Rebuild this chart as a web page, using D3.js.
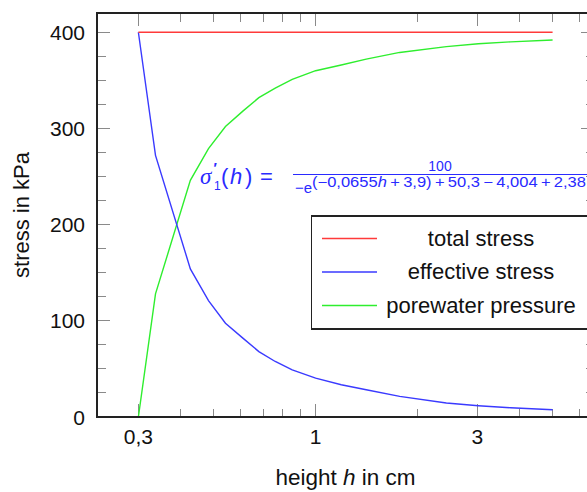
<!DOCTYPE html>
<html>
<head>
  <meta charset="utf-8">
  <title>Stress over height</title>
  <script src="https://d3js.org/d3.v7.min.js"></script>
  <style>
    body { margin: 0; background: #fff; }
    text { font-family: "Liberation Sans", Arial, sans-serif; fill: #111; }
    .line { fill: none; stroke-width: 1.4px; }
    .tick-line { stroke: #8a8a8a; stroke-width: 1px; shape-rendering: crispEdges; }
    .frame { fill: none; stroke: #222; stroke-width: 1.2px; shape-rendering: crispEdges; }
    .formula text { fill: #2a2aff; }
  </style>
</head>
<body>
  <script>
    // values
    var heights = [0.3, 0.337, 0.427, 0.483, 0.542, 0.61, 0.68, 0.76, 0.853, 1.0, 1.19, 1.41, 1.77, 2.43, 3.02, 3.76, 5];
    var effectiveStress = [400, 272, 154, 121, 97.5, 82, 68, 57.7, 49, 40.4, 33.5, 28.3, 21.4, 14.5, 11.7, 9.6, 7.6];
    var porewaterPressure = [0, 128, 246, 279, 302, 318, 332, 342, 351, 360, 366, 372, 379, 385, 388, 390, 392];
    var totalHeights = [0.3, 5];
    var totalStress = [400, 400];

    var xMajor = [0.3, 1, 3];
    var xMinor = [0.4, 0.5, 0.6, 0.7, 0.8, 0.9, 2, 4, 5, 6];
    var yMajor = [0, 100, 200, 300, 400];
    var yMinor = [25, 50, 75, 125, 150, 175, 225, 250, 275, 325, 350, 375];

    var legendItems = ["total stress", "effective stress", "porewater pressure"];
    var colors = ["#ff3a3a", "#3a3aff", "#2eee2e"];

    var W = 587, H = 492;
    var m = {left: 97, right: 594, top: 13, bottom: 417};

    var x = d3.scaleLog().domain([0.2265, 6.624]).range([m.left, m.right]);
    var y = d3.scaleLinear().domain([0, 420]).range([m.bottom, m.top]);

    var svg = d3.select("body").append("svg")
        .attr("width", W)
        .attr("height", H);

    var fmt = function(d) { return String(d).replace(".", ","); };

    // ticks on all four sides, pointing inward
    var majLen = 13, minLen = 8.5;
    var ticks = svg.append("g");
    function xTicks(vals, len) {
      vals.forEach(function(v) {
        ticks.append("line").attr("class", "tick-line")
          .attr("x1", x(v)).attr("x2", x(v)).attr("y1", m.bottom).attr("y2", m.bottom - len);
        ticks.append("line").attr("class", "tick-line")
          .attr("x1", x(v)).attr("x2", x(v)).attr("y1", m.top).attr("y2", m.top + len);
      });
    }
    function yTicks(vals, len) {
      vals.forEach(function(v) {
        ticks.append("line").attr("class", "tick-line")
          .attr("x1", m.left).attr("x2", m.left + len).attr("y1", y(v)).attr("y2", y(v));
        ticks.append("line").attr("class", "tick-line")
          .attr("x1", m.right).attr("x2", m.right - len).attr("y1", y(v)).attr("y2", y(v));
      });
    }
    xTicks(xMajor, majLen);
    xTicks(xMinor, minLen);
    yTicks(yMajor, majLen);
    yTicks(yMinor, minLen);

    svg.append("g").selectAll("text")
      .data(xMajor)
      .join("text")
        .attr("x", function(d) { return x(d); })
        .attr("y", 444)
        .attr("text-anchor", "middle")
        .style("font-size", "21px")
        .text(fmt);

    svg.append("g").selectAll("text")
      .data(yMajor)
      .join("text")
        .attr("x", 85)
        .attr("y", function(d) { return y(d); })
        .attr("dy", "0.36em")
        .attr("text-anchor", "end")
        .style("font-size", "21px")
        .text(function(d) { return d; });

    // axis titles
    var xt = svg.append("text")
        .attr("x", (m.left + m.right) / 2)
        .attr("y", 485)
        .attr("text-anchor", "middle")
        .style("font-size", "22.5px");
    xt.append("tspan").text("height ");
    xt.append("tspan").style("font-style", "italic").text("h");
    xt.append("tspan").text(" in cm");

    svg.append("text")
        .attr("transform", "translate(29," + ((m.top + m.bottom) / 2) + ") rotate(-90)")
        .attr("text-anchor", "middle")
        .style("font-size", "22px")
        .text("stress in kPa");

    // series
    var line = d3.line()
        .x(function(d) { return x(d[0]); })
        .y(function(d) { return y(d[1]); });

    var series = [
      d3.zip(totalHeights, totalStress),
      d3.zip(heights, effectiveStress),
      d3.zip(heights, porewaterPressure)
    ];

    svg.append("g").selectAll("path")
      .data([series[2], series[1], series[0]])
      .join("path")
        .attr("class", "line")
        .attr("stroke", function(d, i) { return colors[2 - i]; })
        .attr("d", line);

    // formula
    var f = svg.append("g").attr("class", "formula");
    f.append("text").attr("x", 200).attr("y", 184)
        .style("font-family", "'Liberation Serif', serif").style("font-style", "italic")
        .style("font-size", "23px").text("σ");
    f.append("text").attr("x", 213.5).attr("y", 173)
        .style("font-size", "14px").style("font-weight", "bold").text("′");
    f.append("text").attr("x", 214).attr("y", 190)
        .style("font-size", "12px").text("1");
    f.append("text").attr("x", 221).attr("y", 184)
        .style("font-size", "22px").text("(");
    f.append("text").attr("x", 230).attr("y", 184)
        .style("font-size", "22px").style("font-style", "italic").text("h");
    f.append("text").attr("x", 245).attr("y", 184)
        .style("font-size", "22px").text(")");
    f.append("text").attr("x", 260).attr("y", 184)
        .style("font-size", "22px").text("=");
    f.append("line")
        .attr("x1", 293).attr("x2", 587).attr("y1", 174.5).attr("y2", 174.5)
        .attr("stroke", "#2a2aff").attr("stroke-width", 1.2);
    f.append("text").attr("x", 440).attr("y", 170.5).attr("text-anchor", "middle")
        .style("font-size", "14px").text("100");
    f.append("text").attr("x", 295).attr("y", 193)
        .style("font-size", "15px").text("−e");
    var sup = f.append("text").attr("x", 312).attr("y", 187)
        .attr("textLength", 274).attr("lengthAdjust", "spacingAndGlyphs")
        .style("font-size", "14px");
    sup.append("tspan").text("(−0,0655");
    sup.append("tspan").style("font-style", "italic").text("h");
    sup.append("tspan").text("\u2009+\u20093,9)\u2009+\u200950,3\u2009−\u20094,004\u2009+\u20092,38");

    // legend
    var lg = svg.append("g");
    lg.append("rect")
        .attr("class", "frame")
        .attr("x", 311.5).attr("y", 216)
        .attr("width", 300).attr("height", 113)
        .style("fill", "#fff");
    var rowY = [238.5, 272, 305.5];
    legendItems.forEach(function(name, i) {
      lg.append("line")
        .attr("x1", 322).attr("x2", 377)
        .attr("y1", rowY[i]).attr("y2", rowY[i])
        .attr("stroke", colors[i]).attr("stroke-width", 1.4);
      lg.append("text")
        .attr("x", 481).attr("y", rowY[i] + 7)
        .attr("text-anchor", "middle")
        .style("font-size", "22px")
        .text(name);
    });

    // frame
    svg.append("rect")
        .attr("class", "frame")
        .attr("x", m.left).attr("y", m.top)
        .attr("width", m.right - m.left).attr("height", m.bottom - m.top);
  </script>
</body>
</html>
